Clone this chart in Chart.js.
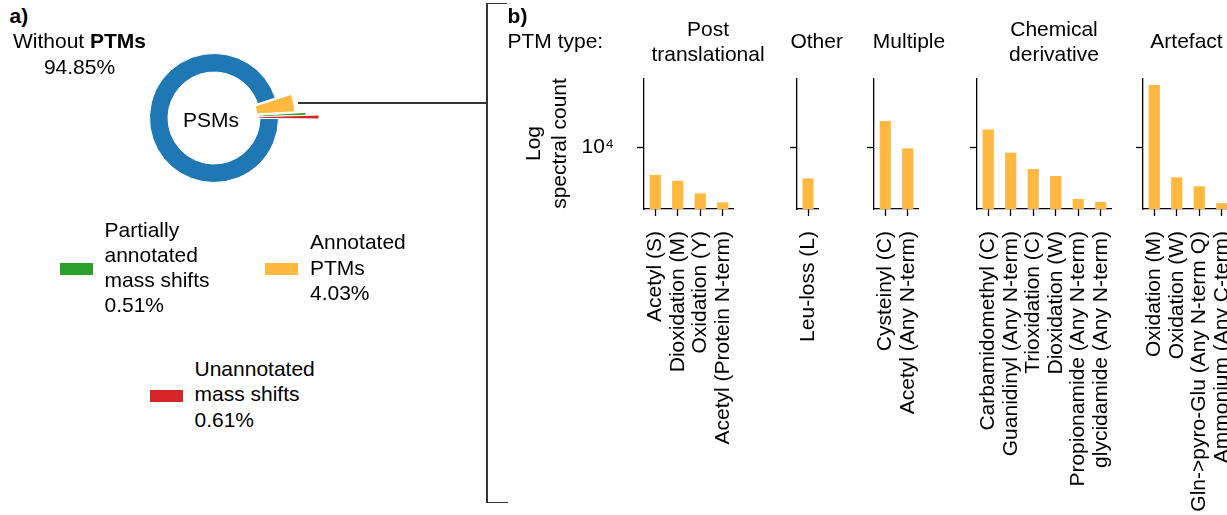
<!DOCTYPE html>
<html>
<head>
<meta charset="utf-8">
<script src="https://cdn.jsdelivr.net/npm/chart.js@4.4.1/dist/chart.umd.min.js"></script>
<style>
  html, body { margin: 0; padding: 0; background: #fff; overflow: hidden; }
  #fig { position: relative; width: 1227px; height: 515px; overflow: hidden;
         font-family: 'Liberation Sans', Arial, sans-serif; font-size: 21px; color: #000; }
  .txt { position: absolute; white-space: nowrap; line-height: 25.3px; }
  .ctr { text-align: center; width: 260px; }
  .sw { position: absolute; width: 33px; height: 12px; }
  .ln { position: absolute; background: #333; }
  canvas { position: absolute; }
</style>
</head>
<body>
<div id="fig">
  <div class="txt" style="left:9.5px; top:3px; font-weight:bold;">a)</div>
  <div class="txt ctr" style="left:-50.5px; top:28.4px; line-height:25.6px;">Without <b>PTMs</b><br>94.85%</div>
  <div class="txt ctr" style="left:81px; top:106.8px;">PSMs</div>

  <div class="sw" style="left:60px; top:263px; background:#2CA02C;"></div>
  <div class="txt" style="left:104.5px; top:216.8px; line-height:25px;">Partially<br>annotated<br>mass shifts<br>0.51%</div>
  <div class="sw" style="left:265px; top:263px; background:#FFB940;"></div>
  <div class="txt" style="left:310px; top:229.4px;">Annotated<br>PTMs<br>4.03%</div>
  <div class="sw" style="left:150px; top:390px; background:#D62728;"></div>
  <div class="txt" style="left:194.5px; top:355.8px; line-height:25.5px;">Unannotated<br>mass shifts<br>0.61%</div>

  <div class="ln" style="left:298px; top:102px; width:189px; height:1.5px;"></div>
  <div class="ln" style="left:486px; top:2.5px; width:1.5px; height:500.5px;"></div>
  <div class="ln" style="left:486px; top:2.5px; width:21px; height:1.5px;"></div>
  <div class="ln" style="left:486px; top:501.5px; width:22px; height:1.5px;"></div>

  <div class="txt" style="left:507.6px; top:3px; font-weight:bold;">b)</div>
  <div class="txt" style="left:507.5px; top:28.4px;">PTM type:</div>
</div>

<script>
// Panel a: share of PSMs (%), in drawing order (clockwise)
const pieLabels = ['Annotated PTMs', 'Partially annotated mass shifts', 'Unannotated mass shifts', 'Without PTMs'];
const piePercents = [4.03, 0.51, 0.61, 94.85];
const pieColors = ['#FFB940', '#2CA02C', '#D62728', '#1F77B4'];

// Panel b: PTM groups
const groupNames = [['Post', 'translational'], ['Other'], ['Multiple'], ['Chemical', 'derivative'], ['Artefact']];

const ptLabels = ['Acetyl (S)', 'Dioxidation (M)', 'Oxidation (Y)', 'Acetyl (Protein N-term)'];
const ptCounts = [5250, 4600, 3440, 2800];

const otherLabels = ['Leu-loss (L)'];
const otherCounts = [4860];

const multiLabels = ['Cysteinyl (C)', 'Acetyl (Any N-term)'];
const multiCounts = [18200, 9700];

const chemLabels = ['Carbamidomethyl (C)', 'Guanidinyl (Any N-term)', 'Trioxidation (C)', 'Dioxidation (W)',
                    'Propionamide (Any N-term)', 'glycidamide (Any N-term)'];
const chemCounts = [15000, 8770, 6030, 5130, 3020, 2820];

const artLabels = ['Oxidation (M)', 'Oxidation (W)', 'Gln->pyro-Glu (Any N-term Q)', 'Ammonium (Any C-term)'];
const artCounts = [41700, 4980, 4050, 2740];

const yTicks = [10000];
const yTickText = ['10\u2074'];
const yTitle = ['Log', 'spectral count'];

// layout
const FONT = "'Liberation Sans', Arial, sans-serif";
const fig = document.getElementById('fig');
const barColor = '#FFB940';
const axisX = [644, 797, 874, 977, 1143];
const headerX = [708, 816.7, 909, 1054, 1186.5];
const areaTop = 78, areaH = 131, catW = 22.5;

// header texts
groupNames.forEach((name, i) => {
  const d = document.createElement('div');
  d.className = 'txt ctr';
  d.style.left = (headerX[i] - 130) + 'px';
  d.style.top = (name.length > 1 ? 15.8 : 28.4) + 'px';
  d.innerHTML = name.join('<br>');
  fig.appendChild(d);
});

// doughnut with per-slice radii
const sliceInner = [32, 45, 45, 46];
const sliceOuter = [70, 92, 105, 64.5];
const sliceShift = [11, 0, 0, 0];

const ringPlugin = {
  id: 'ringSizes',
  afterDatasetsUpdate(chart) {
    const a = chart.chartArea;
    const cx = (a.left + a.right) / 2, cy = (a.top + a.bottom) / 2;
    chart.getDatasetMeta(0).data.forEach((arc, i) => {
      const mid = (arc.startAngle + arc.endAngle) / 2;
      arc.innerRadius = sliceInner[i];
      arc.outerRadius = sliceOuter[i];
      arc.x = cx + Math.cos(mid) * sliceShift[i];
      arc.y = cy + Math.sin(mid) * sliceShift[i];
    });
  }
};

const pieCv = document.createElement('canvas');
pieCv.width = 240; pieCv.height = 240;
pieCv.style.left = (214 - 120) + 'px';
pieCv.style.top = (117.5 - 120) + 'px';
fig.insertBefore(pieCv, fig.firstChild);

new Chart(pieCv, {
  type: 'doughnut',
  data: {
    labels: pieLabels,
    datasets: [{ data: piePercents, backgroundColor: pieColors, borderColor: '#fff', borderWidth: 1 }]
  },
  options: {
    responsive: false, animation: false, events: [],
    rotation: 72,
    layout: { padding: 0 },
    plugins: { legend: { display: false }, tooltip: { enabled: false } }
  },
  plugins: [ringPlugin]
});

// bar panels
const panelLabels = [ptLabels, otherLabels, multiLabels, chemLabels, artLabels];
const panelCounts = [ptCounts, otherCounts, multiCounts, chemCounts, artCounts];

const axisGrid = { display: true, drawOnChartArea: false, drawTicks: true, tickLength: 7,
                   tickWidth: 1.3, tickColor: '#000', offset: false };
const axisBorder = { display: true, color: '#000', width: 1.3 };

panelLabels.forEach((labels, i) => {
  const first = i === 0;
  const yW = first ? 123 : 8;
  const xH = 515 - areaTop - areaH;
  const cv = document.createElement('canvas');
  cv.width = yW + labels.length * catW;
  cv.height = areaH + xH;
  cv.style.left = (axisX[i] - yW) + 'px';
  cv.style.top = areaTop + 'px';
  fig.appendChild(cv);

  new Chart(cv, {
    type: 'bar',
    data: {
      labels: labels,
      datasets: [{ data: panelCounts[i], backgroundColor: barColor, borderWidth: 0,
                   barPercentage: 0.5, categoryPercentage: 1 }]
    },
    options: {
      responsive: false, animation: false, events: [],
      layout: { padding: 0 },
      plugins: { legend: { display: false }, tooltip: { enabled: false } },
      scales: {
        x: {
          type: 'category', offset: true,
          grid: axisGrid, border: axisBorder,
          ticks: { autoSkip: false, minRotation: 90, maxRotation: 90, padding: 15,
                   color: '#000', font: { family: FONT, size: 21 } },
          afterFit: s => { s.height = xH; s.paddingLeft = 0; s.paddingRight = 0; }
        },
        y: {
          type: 'logarithmic', min: 2400, max: 49000,
          afterBuildTicks: s => { s.ticks = yTicks.map(v => ({ value: v })); },
          grid: axisGrid, border: axisBorder,
          ticks: { padding: 23, color: '#000', font: { family: FONT, size: 21 },
                   callback: (v, k) => first ? yTickText[k] : '' },
          title: { display: first, text: yTitle, color: '#000', padding: 0,
                   font: { family: FONT, size: 21, lineHeight: 1.24 } },
          afterFit: s => { s.width = yW; s.paddingTop = 0; s.paddingBottom = 0; }
        }
      }
    }
  });
});
</script>
</body>
</html>
